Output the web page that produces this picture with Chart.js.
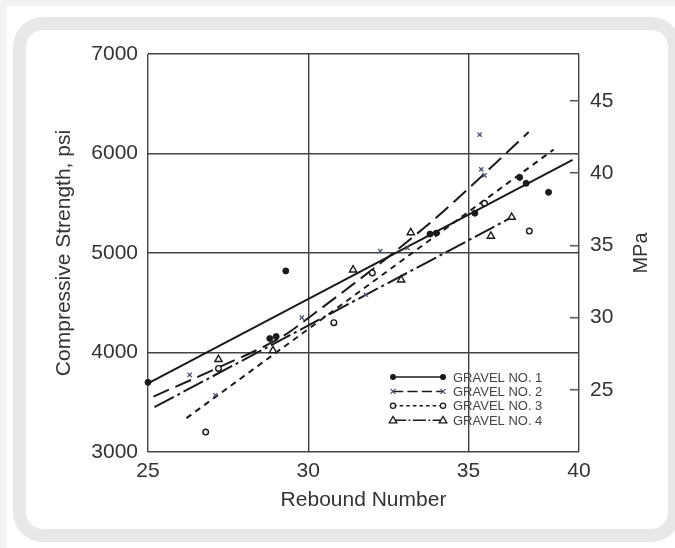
<!DOCTYPE html>
<html>
<head>
<meta charset="utf-8">
<script src="https://cdn.jsdelivr.net/npm/chart.js@4.4.0/dist/chart.umd.min.js"></script>
<style>
  html, body { margin: 0; padding: 0; width: 675px; height: 548px; overflow: hidden; background: #f2f2f2; }
  .sheet { position: absolute; left: 7px; top: 6px; right: 0; bottom: 0; background: #fff; }
  .card { position: absolute; left: 13px; top: 17px; width: 642px; height: 499px; border: 13px solid #e8e8e8; border-radius: 30px; background: #fff; }
  #wrap { position: absolute; left: 0; top: 0; width: 675px; height: 548px; }
</style>
</head>
<body>
<div class="sheet"></div>
<div class="card"></div>
<div id="wrap"><canvas id="rebound" width="675" height="548"></canvas></div>
<script>
// axis ticks (the printed figure puts "40" at the right frame edge)
var xTickValues = [25, 30, 35, 38.45];
var xTickLabels = ["25", "30", "35", "40"];
var psiTicks = [3000, 4000, 5000, 6000, 7000];
var mpaTicks = [25, 30, 35, 40, 45];
var PSI_PER_MPA = 145.04;

// measured points: rebound number / compressive strength (psi)
var g1Rebound = [25.0, 28.8, 29.0, 29.3, 33.8, 34.0, 35.2, 36.6, 36.8, 37.5];
var g1Psi     = [3700, 4140, 4160, 4820, 5190, 5200, 5400, 5760, 5700, 5610];
var g2Rebound = [26.3, 27.1, 29.8, 31.8, 32.25, 33.1, 35.35, 35.4, 35.5];
var g2Psi     = [3775, 3570, 4350, 4580, 5020, 5050, 6190, 5840, 5780];
var g3Rebound = [26.8, 27.2, 30.8, 32.0, 35.5, 36.9];
var g3Psi     = [3200, 3840, 4300, 4800, 5500, 5220];
var g4Rebound = [27.2, 28.9, 31.4, 32.9, 33.2, 35.7, 36.35];
var g4Psi     = [3930, 4020, 4830, 4730, 5205, 5170, 5360];

// fitted curves
var g1LineX = [25.0, 38.25];
var g1LineY = [3690, 5935];
var g2LineX = [25.17, 27.1, 29.2, 30.0, 33.9, 36.88];
var g2LineY = [3557, 3835, 4162, 4346, 5330, 6215];
var g3LineX = [26.2, 37.66];
var g3LineY = [3340, 6040];
var g4LineX = [25.2, 36.3];
var g4LineY = [3450, 5350];

var legendLabels = ["GRAVEL NO. 1", "GRAVEL NO. 2", "GRAVEL NO. 3", "GRAVEL NO. 4"];

function pts(xs, ys) {
  return xs.map(function (x, i) { return { x: x, y: ys[i] }; });
}

var ink = "#1a1a1a";
var fontFam = '"Liberation Sans", Arial, Helvetica, sans-serif';
var styles = [
  { dash: [], mark: "dot" },
  { dash: [17, 7], mark: "x" },
  { dash: [6, 5], mark: "ring" },
  { dash: [22, 4, 3, 4], mark: "tri" }
];

function lineSet(xs, ys, dash, extra) {
  var d = {
    type: "line",
    data: pts(xs, ys),
    borderColor: ink,
    borderWidth: 2,
    borderDash: dash,
    pointRadius: 0,
    fill: false,
    tension: 0
  };
  for (var k in extra) d[k] = extra[k];
  return d;
}

function drawMark(ctx, kind, x, y) {
  ctx.save();
  ctx.setLineDash([]);
  ctx.strokeStyle = ink;
  ctx.fillStyle = ink;
  ctx.lineWidth = 1.3;
  ctx.beginPath();
  if (kind === "dot") {
    ctx.arc(x, y, 3, 0, Math.PI * 2);
    ctx.fill();
  } else if (kind === "x") {
    ctx.strokeStyle = "#4a5570";
    ctx.moveTo(x - 2.5, y - 2.5); ctx.lineTo(x + 2.5, y + 2.5);
    ctx.moveTo(x + 2.5, y - 2.5); ctx.lineTo(x - 2.5, y + 2.5);
    ctx.stroke();
  } else if (kind === "ring") {
    ctx.fillStyle = "#fff";
    ctx.arc(x, y, 2.6, 0, Math.PI * 2);
    ctx.fill(); ctx.stroke();
  } else {
    ctx.fillStyle = "#fff";
    ctx.moveTo(x, y - 3.8); ctx.lineTo(x + 3.8, y + 2.6); ctx.lineTo(x - 3.8, y + 2.6); ctx.closePath();
    ctx.fill(); ctx.stroke();
  }
  ctx.restore();
}

var gravelKey = {
  id: "gravelKey",
  afterDraw: function (chart) {
    var ctx = chart.ctx;
    var area = chart.chartArea;
    var x0 = area.right - 186, x1 = area.right - 136, tx = area.right - 126;
    ctx.save();
    ctx.font = "13px " + fontFam;
    ctx.textBaseline = "middle";
    ctx.fillStyle = "#444";
    legendLabels.forEach(function (label, i) {
      var y = area.bottom - 75 + i * 14.4;
      ctx.save();
      ctx.strokeStyle = ink;
      ctx.lineWidth = 1.5;
      ctx.setLineDash(styles[i].dash.map(function (v) { return v * 0.6; }));
      ctx.beginPath(); ctx.moveTo(x0, y); ctx.lineTo(x1, y); ctx.stroke();
      ctx.restore();
      drawMark(ctx, styles[i].mark, x0, y);
      drawMark(ctx, styles[i].mark, x1, y);
      ctx.fillText(label, tx, y + 1);
    });
    // right axis title, reading bottom to top
    ctx.font = "20px " + fontFam;
    ctx.fillStyle = "#333";
    ctx.textAlign = "center";
    ctx.translate(641, (area.top + area.bottom) / 2);
    ctx.rotate(-Math.PI / 2);
    ctx.fillText("MPa", 0, 0);
    ctx.restore();
  }
};

var tickFont = { family: fontFam, size: 21 };

new Chart(document.getElementById("rebound"), {
  type: "scatter",
  data: {
    datasets: [
      { label: legendLabels[0], data: pts(g1Rebound, g1Psi), pointStyle: "circle", pointRadius: 3,
        backgroundColor: ink, borderColor: ink, clip: false },
      { label: legendLabels[1], data: pts(g2Rebound, g2Psi), pointStyle: "crossRot", pointRadius: 3,
        borderColor: "#4a5570", borderWidth: 1.3 },
      { label: legendLabels[2], data: pts(g3Rebound, g3Psi), pointStyle: "circle", pointRadius: 2.8,
        backgroundColor: "#fff", borderColor: ink, borderWidth: 1.4 },
      { label: legendLabels[3], data: pts(g4Rebound, g4Psi), pointStyle: "triangle", pointRadius: 4.2,
        backgroundColor: "#fff", borderColor: ink, borderWidth: 1.4 },
      lineSet(g1LineX, g1LineY, styles[0].dash, {}),
      lineSet(g2LineX, g2LineY, styles[1].dash, { cubicInterpolationMode: "monotone" }),
      lineSet(g3LineX, g3LineY, styles[2].dash, {}),
      lineSet(g4LineX, g4LineY, styles[3].dash, {})
    ]
  },
  options: {
    responsive: false,
    animation: false,
    devicePixelRatio: 1,
    layout: { padding: { top: 54, left: 0, right: 0, bottom: 0 } },
    plugins: { legend: { display: false }, tooltip: { enabled: false } },
    scales: {
      x: {
        type: "linear",
        min: 25,
        max: 38.45,
        afterBuildTicks: function (s) { s.ticks = xTickValues.map(function (v) { return { value: v }; }); },
        afterFit: function (s) { s.height = 96; },
        ticks: {
          autoSkip: false, maxRotation: 0, padding: 7, color: "#333", font: tickFont,
          callback: function (v) { return xTickLabels[xTickValues.indexOf(v)]; }
        },
        grid: { color: "#444", lineWidth: 1.4, drawTicks: false },
        border: { display: false },
        title: { display: true, text: "Rebound Number", color: "#333", font: tickFont, padding: { top: 0, bottom: 35 } }
      },
      y: {
        min: 3000,
        max: 7000,
        afterBuildTicks: function (s) { s.ticks = psiTicks.map(function (v) { return { value: v }; }); },
        afterFit: function (s) { s.width = 148; },
        ticks: { padding: 10, color: "#333", font: tickFont, callback: function (v) { return String(v); } },
        grid: { color: "#444", lineWidth: 1.4, drawTicks: false },
        border: { display: false },
        title: { display: true, text: "Compressive Strength, psi", color: "#333", font: tickFont, padding: { top: 52, bottom: 0 } }
      },
      y2: {
        position: "right",
        min: 3000 / PSI_PER_MPA,
        max: 7000 / PSI_PER_MPA,
        afterBuildTicks: function (s) { s.ticks = mpaTicks.map(function (v) { return { value: v }; }); },
        afterFit: function (s) { s.width = 96; },
        ticks: { padding: 20, color: "#333", font: tickFont, callback: function (v) { return String(v); } },
        grid: { drawOnChartArea: false, drawTicks: true, tickLength: -9, color: "#555", lineWidth: 1.5 },
        border: { display: false }
      }
    }
  },
  plugins: [gravelKey]
});
</script>
</body>
</html>
